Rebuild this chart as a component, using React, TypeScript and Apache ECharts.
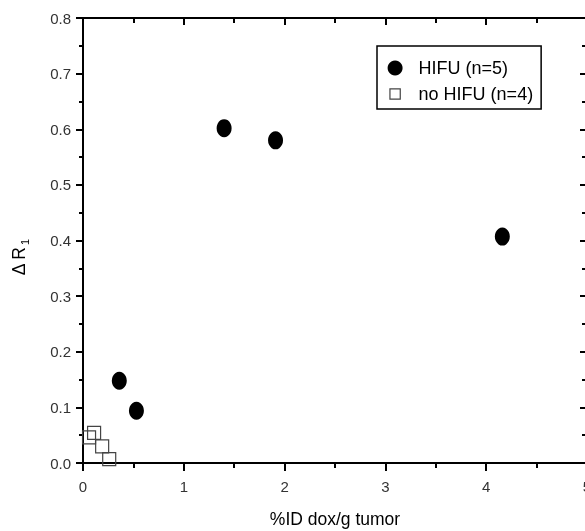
import React, { useEffect, useRef } from "react";
import * as echarts from "echarts";

const FONT = "'Liberation Sans', Arial, sans-serif";

// HIFU (n=5) — filled circles
const hifuX = [0.36, 0.53, 1.4, 1.91, 4.16];
const hifuY = [0.148, 0.094, 0.602, 0.58, 0.407];

// no HIFU (n=4) — open squares
const noHifuX = [0.06, 0.11, 0.19, 0.26];
const noHifuY = [0.046, 0.054, 0.03, 0.007];

const seriesNames = ["HIFU (n=5)", "no HIFU (n=4)"];
const xTitle = "%ID dox/g tumor";

const INK = "#000";

export default function App() {
  const ref = useRef<HTMLDivElement>(null);

  useEffect(() => {
    if (!ref.current) return;
    const chart = echarts.init(ref.current, null, { renderer: "svg" });

    const option: any = {
      animation: false,
      grid: { left: 83, top: 18, right: -2, bottom: 68, outerBoundsMode: "none" },
      legend: {
        orient: "vertical",
        left: 377,
        top: 46,
        borderColor: INK,
        borderWidth: 1.5,
        padding: [13, 8, 6, 10],
        itemGap: 8,
        itemWidth: 15,
        itemHeight: 17,
        textStyle: { fontSize: 18, color: INK, fontFamily: FONT, padding: [0, 0, 0, 11] },
        data: [
          { name: seriesNames[0], icon: "circle", itemStyle: { opacity: 1, color: INK } },
          {
            name: seriesNames[1],
            icon: "path://M0,0M16,16M2.5,2.5L13.5,2.5L13.5,13.5L2.5,13.5Z",
            itemStyle: { borderWidth: 1.2, borderColor: "#444", color: "rgba(0,0,0,0)", opacity: 1 },
          },
        ],
      },
      xAxis: [
        {
          type: "value",
          position: "bottom",
          min: 0,
          max: 5,
          interval: 1,
          axisLine: { show: true, lineStyle: { color: INK, width: 2 } },
          axisTick: { show: true, length: 8, lineStyle: { color: INK, width: 2 } },
          minorTick: { show: true, splitNumber: 2, length: 5, lineStyle: { color: INK, width: 2 } },
          splitLine: { show: false },
          axisLabel: { fontSize: 15, color: "#333", fontFamily: FONT, margin: 16 },
          name: xTitle,
          nameLocation: "middle",
          nameGap: 47,
          nameTextStyle: { fontSize: 17.5, color: INK, fontFamily: FONT },
        },
        {
          type: "value",
          position: "top",
          min: 0,
          max: 5,
          interval: 1,
          axisLine: { show: true, onZero: false, lineStyle: { color: INK, width: 2 } },
          axisTick: { show: true, inside: true, length: 7, lineStyle: { color: INK, width: 2 } },
          minorTick: { show: true, splitNumber: 2, length: 5, lineStyle: { color: INK, width: 2 } },
          splitLine: { show: false },
          axisLabel: { show: false },
        },
      ],
      yAxis: [
        {
          type: "value",
          position: "left",
          min: 0,
          max: 0.8,
          interval: 0.1,
          axisLine: { show: true, lineStyle: { color: INK, width: 2 } },
          axisTick: { show: true, length: 7, lineStyle: { color: INK, width: 2 } },
          minorTick: { show: true, splitNumber: 2, length: 4, lineStyle: { color: INK, width: 2 } },
          splitLine: { show: false },
          axisLabel: {
            fontSize: 15,
            color: "#333",
            fontFamily: FONT,
            margin: 12,
            formatter: (v: number) => v.toFixed(1),
          },
        },
        {
          type: "value",
          position: "right",
          min: 0,
          max: 0.8,
          interval: 0.1,
          axisLine: { show: true, onZero: false, lineStyle: { color: INK, width: 2 } },
          axisTick: { show: true, inside: true, length: 7, lineStyle: { color: INK, width: 2 } },
          minorTick: { show: true, splitNumber: 2, length: 5, lineStyle: { color: INK, width: 2 } },
          splitLine: { show: false },
          axisLabel: { show: false },
        },
      ],
      graphic: [
        {
          type: "group",
          x: 19,
          y: 247,
          rotation: Math.PI / 2,
          children: [
            {
              type: "text",
              x: 0,
              y: 0,
              style: {
                text: "Δ R",
                fontSize: 17.5,
                fontFamily: FONT,
                fill: INK,
                textAlign: "right",
                textVerticalAlign: "middle",
              },
            },
            {
              type: "text",
              x: 2,
              y: 6,
              style: {
                text: "1",
                fontSize: 11,
                fontFamily: FONT,
                fill: INK,
                textAlign: "left",
                textVerticalAlign: "middle",
              },
            },
          ],
        },
      ],
      series: [
        {
          name: seriesNames[0],
          type: "scatter",
          symbol: "circle",
          symbolSize: [15, 18],
          itemStyle: { color: INK, opacity: 1 },
          data: hifuX.map((x, i) => [x, hifuY[i]]),
        },
        {
          name: seriesNames[1],
          type: "scatter",
          symbol: "rect",
          symbolSize: 13,
          itemStyle: { color: "rgba(0,0,0,0)", borderColor: "#444", borderWidth: 1.2, opacity: 1 },
          data: noHifuX.map((x, i) => [x, noHifuY[i]]),
        },
      ],
    };

    chart.setOption(option);
    return () => chart.dispose();
  }, []);

  return (
    <div ref={ref} style={{ position: "fixed", left: 0, top: 0, width: 585, height: 531 }} />
  );
}
